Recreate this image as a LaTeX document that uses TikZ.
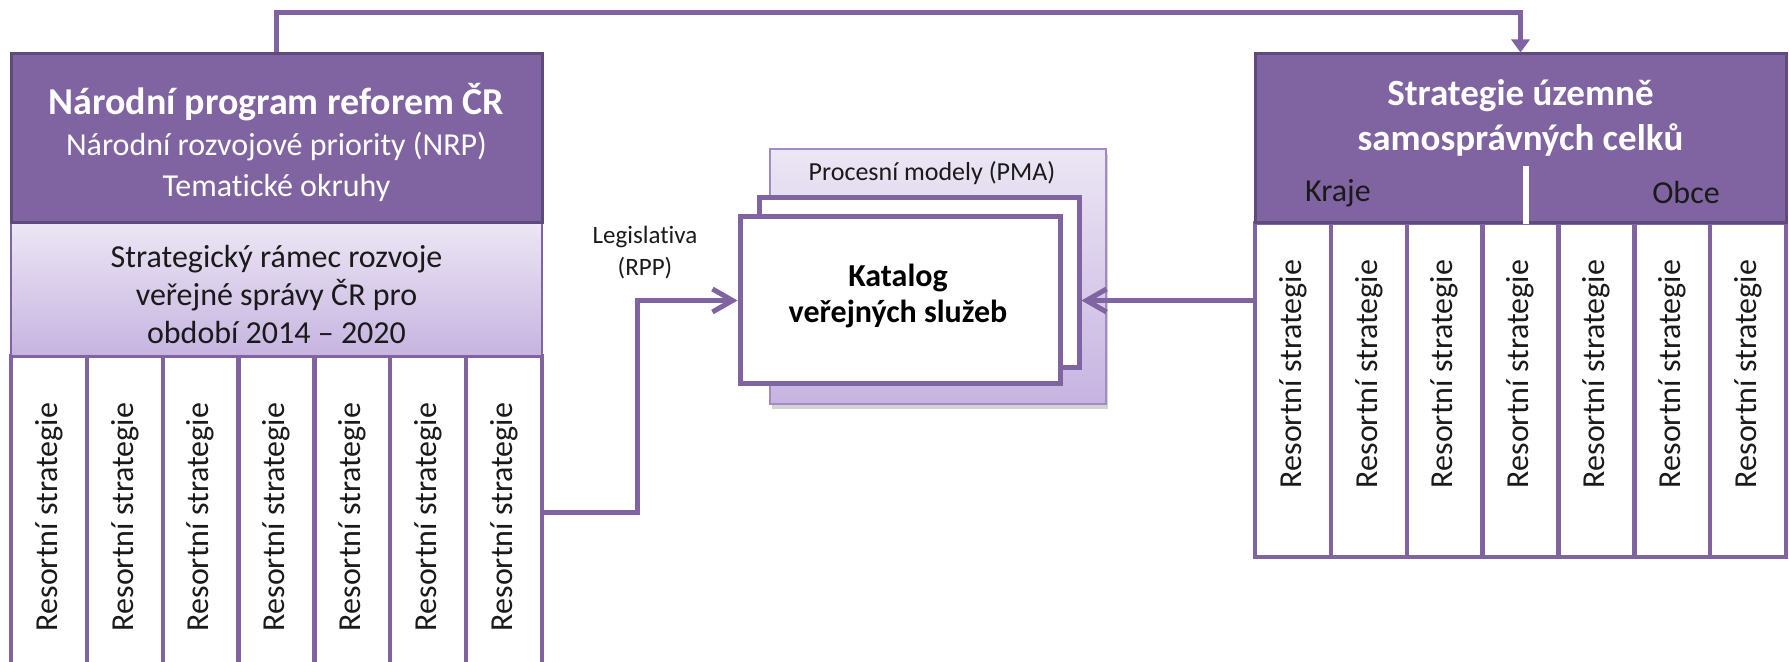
\documentclass[tikz,border=0pt]{standalone}
\usepackage{fontspec}
\setmainfont{Carlito}[Ligatures=NoCommon]
\usetikzlibrary{arrows.meta,calc,shadows}
\definecolor{purp}{HTML}{8064A2}
\definecolor{purpdark}{HTML}{5F4A7D}
\definecolor{lavtop}{HTML}{ECE6F4}
\definecolor{lavbot}{HTML}{C6B4E0}
\definecolor{pmaedge}{HTML}{A08CC2}
\definecolor{txt}{HTML}{1A1A1A}
\begin{document}
\begin{tikzpicture}[x=0.5pt,y=-0.5pt,
  hdrbox/.style={draw=purpdark, line width=1.5pt, fill=purp, minimum width=265.5pt, minimum height=84.5pt, inner sep=0pt},
  lightbox/.style={draw=purp, line width=1.2pt, top color=lavtop, bottom color=lavbot, minimum width=265.5pt, minimum height=66.5pt, inner sep=0pt},
  colbox/.style={draw=purp, line width=2.2pt, fill=white, minimum width=37.93pt, inner sep=0pt},
  coltext/.style={rotate=90, font=\fontsize{16}{19}\selectfont, text=txt, inner sep=0pt},
  catbox/.style={draw=purp, line width=2.5pt, fill=white, minimum width=160pt, inner sep=0pt},
  conn/.style={draw=purp, line width=2.5pt},
  barb/.tip={Straight Barb[length=10pt,width=11.5pt,line width=2.5pt]}
]
\useasboundingbox (0,0) rectangle (1789,662);
\clip (0,0) rectangle (1789,662);

% ---------- left block ----------
\foreach \i in {0,...,6}{
  \node[colbox, minimum height=161pt] (lc\i) at ({48.93+75.857*\i},517) {};
  \node[coltext] at (lc\i.center) {Resortní strategie};
}
\node[lightbox] (srr) at (276.5,289.5) {};
\node[hdrbox] (npr) at (276.5,138.5) {};
\node[align=center, text=white, font=\fontsize{16}{20.5}\selectfont, inner sep=0pt]
  at ($(npr.center)+(0,4)$)
  {{\fontsize{19}{20.5}\selectfont\bfseries Národní program reforem ČR}\\Národní rozvojové priority (NRP)\\Tematické okruhy};
\node[align=center, text=txt, font=\fontsize{16}{19}\selectfont, inner sep=0pt]
  at ($(srr.center)+(0,5)$)
  {Strategický rámec rozvoje\\veřejné správy ČR pro\\období 2014 – 2020};

% ---------- right block ----------
\foreach \i in {0,...,6}{
  \node[colbox, minimum height=167pt] (rc\i) at ({1292.93+75.857*\i},390) {};
  \node[coltext] at ($(rc\i.center)+(0,-16)$) {Resortní strategie};
}
\node[hdrbox] (ssc) at (1520.5,138.5) {};
\node[align=center, text=white, font=\fontsize{18.5}{22.5}\selectfont\bfseries, inner sep=0pt]
  at ($(ssc.center)+(0,-21)$) {Strategie územně\\samosprávných celků};
\node[text=txt, font=\fontsize{16}{19}\selectfont, inner sep=0pt] (kraje) at (1338,193) {Kraje};
\node[text=txt, font=\fontsize{16}{19}\selectfont, inner sep=0pt] (obce) at (1686,193) {Obce};
\draw[white, line width=3pt] ($(ssc.south)+(5.5,0)$) -- ++(0,-58);

% ---------- middle ----------
\node[draw=pmaedge, line width=1pt, top color=lavtop, bottom color=lavbot,
      minimum width=168pt, minimum height=127.5pt, inner sep=0pt,
      drop shadow={opacity=0.35, shadow xshift=1pt, shadow yshift=-2.5pt}] (pma) at (938,276.5) {};
\node[font=\fontsize{13}{15}\selectfont, text=txt, inner sep=0pt] (pmatext) at (932,173) {Procesní modely (PMA)};
\node[catbox, minimum height=85pt] (back) at (919,283) {};
\node[catbox, minimum height=83.5pt] (katalog) at (900,300.5) {};
\node[align=center, font=\fontsize{16}{18}\selectfont\bfseries, text=black, inner sep=0pt]
  at ($(katalog.center)+(-2,-5)$) {Katalog\\veřejných služeb};
\node[align=center, font=\fontsize{12.5}{16}\selectfont, text=txt, inner sep=0pt] (legis) at (645,253) {Legislativa\\(RPP)};

% ---------- connectors ----------
\draw[conn, -{Triangle[length=6.5pt,width=9pt]}] (npr.north) -- ++(0,-40) -| (ssc.north);
\draw[conn, -{barb}] ([yshift=2pt]lc6.east) -| ($(katalog.west)+(-100,0)$) -- (katalog.west);
\draw[conn, -{barb}] (rc0.west |- katalog.east) -- (back.east |- katalog.east);
\end{tikzpicture}
\end{document}
